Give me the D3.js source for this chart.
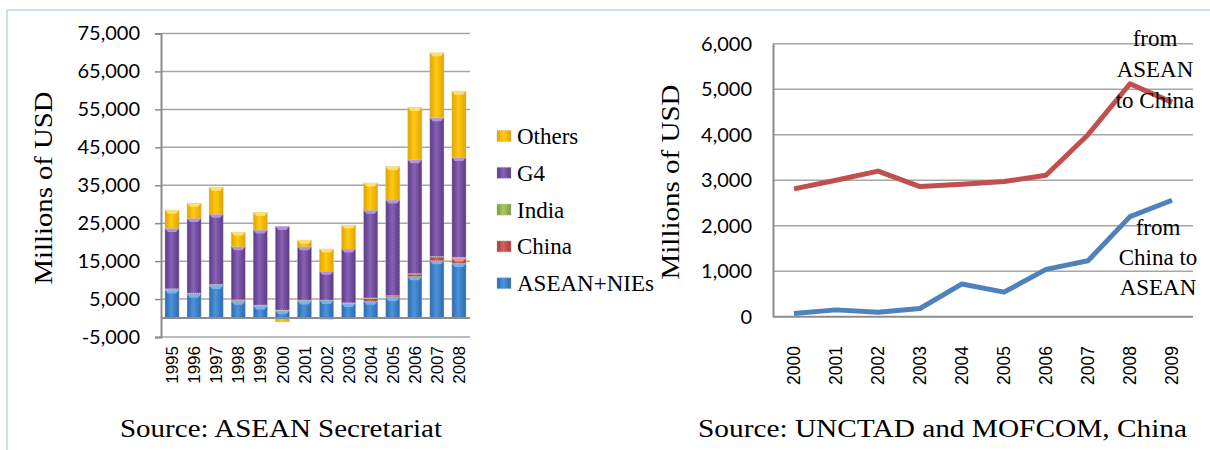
<!DOCTYPE html>
<html>
<head>
<meta charset="utf-8">
<script src="https://cdn.jsdelivr.net/npm/d3@7"></script>
<style>
  html, body { margin: 0; padding: 0; background: #fff; }
  svg { display: block; }
</style>
</head>
<body>
<svg id="chart" width="1210" height="450"></svg>
<script>
// ---- Left panel: inflows by source, stacked (millions of USD) ----
const barYears = ["1995","1996","1997","1998","1999","2000","2001","2002","2003","2004","2005","2006","2007","2008"];
const aseanNies = [7400, 6300, 8600, 4400, 3200, 1900, 4500, 4600, 3800, 4400, 5400, 10900, 15100, 14400];
const china     = [ 200,  150,  150,  300,  100,  100,  100, -300,  100,  800,  400,   700,  1000,  1400];
const india     = [ 100,  100,  100,  100,  100,  100,  100,  100,  100,  100,  100,   100,   100,   200];
const g4        = [15900,19700,18500,14000,19800,22000,14100, 7600,14200,23100,25200, 30000, 36600, 26300];
const others    = [4800, 4000, 7100, 3800, 4600, -1000, 1700, 5900, 6300, 7200, 8800, 13800, 17100, 17500];
const barTicks  = [75000, 65000, 55000, 45000, 35000, 25000, 15000, 5000, -5000];

// ---- Right panel: flows between ASEAN and China (millions of USD) ----
const lineYears   = ["2000","2001","2002","2003","2004","2005","2006","2007","2008","2009"];
const aseanToChina = [2810, 3000, 3200, 2860, 2910, 2970, 3110, 4000, 5120, 4710];
const chinaToAsean = [  70,  150,  100,  180,  720,  540, 1040, 1230, 2200, 2560];
const lineTicks   = [0, 1000, 2000, 3000, 4000, 5000, 6000];

const seriesKeys  = ["ASEAN+NIEs", "China", "India", "G4", "Others"];
const seriesVals  = [aseanNies, china, india, g4, others];
const legendOrder = ["Others", "G4", "India", "China", "ASEAN+NIEs"];
const palette = {
  "ASEAN+NIEs": {edge: "#2c68ac", mid: "#4c93dc", cap: "#7fb6ee"},
  "China":      {edge: "#a83b38", mid: "#d6605c", cap: "#ee9a97"},
  "India":      {edge: "#7a9a3c", mid: "#a8c968", cap: "#cfe5a4"},
  "G4":         {edge: "#5a3883", mid: "#8862b6", cap: "#b99ae0"},
  "Others":     {edge: "#e0a400", mid: "#ffc910", cap: "#ffe37a"}
};

const svg = d3.select("#chart");
const serif = "'Liberation Serif', 'Times New Roman', serif";
const sans = "Lato, 'Open Sans', sans-serif";
const gridColor = "#a6a6a6";
const axisColor = "#8c8c8c";

// page frame
svg.append("line").attr("x1", 7).attr("x2", 1210).attr("y1", 10).attr("y2", 10)
  .attr("stroke", "#bcd0ea").attr("stroke-width", 1.5);
svg.append("line").attr("x1", 7).attr("x2", 7).attr("y1", 10).attr("y2", 450)
  .attr("stroke", "#bcd0ea").attr("stroke-width", 1.5);

// gradients for the bevelled bars
const defs = svg.append("defs");
seriesKeys.forEach((k, i) => {
  const g = defs.append("linearGradient").attr("id", "grad" + i)
    .attr("x1", "0%").attr("x2", "100%").attr("y1", "0%").attr("y2", "0%");
  g.append("stop").attr("offset", "0%").attr("stop-color", palette[k].edge);
  g.append("stop").attr("offset", "45%").attr("stop-color", palette[k].mid);
  g.append("stop").attr("offset", "100%").attr("stop-color", palette[k].edge);
});

// ================= LEFT CHART =================
const xB = d3.scaleBand().domain(barYears).range([161, 470]).paddingInner(0.36).paddingOuter(0.18);
const yB = d3.scaleLinear().domain([-5000, 75000]).range([337, 33.5]);

const left = svg.append("g");

// gridlines
left.append("g").selectAll("line").data(barTicks).join("line")
  .attr("x1", 161).attr("x2", 470)
  .attr("y1", d => yB(d)).attr("y2", d => yB(d))
  .attr("stroke", gridColor).attr("stroke-width", 1.5);

// y axis
const yAxisB = left.append("g").attr("transform", "translate(161,0)")
  .call(d3.axisLeft(yB).tickValues(barTicks).tickSize(6).tickPadding(15)
    .tickFormat(d => d3.format(",")(d).replace("−", "-")));
yAxisB.select(".domain").attr("stroke", axisColor).attr("stroke-width", 2);
yAxisB.selectAll(".tick line").attr("stroke", axisColor).attr("stroke-width", 1.5);
yAxisB.selectAll(".tick text").attr("font-family", sans).attr("font-size", 20).attr("fill", "#000");

// stacked data
const table = barYears.map((y, i) => {
  const row = {year: y};
  seriesKeys.forEach((k, j) => row[k] = seriesVals[j][i]);
  return row;
});
const stacked = d3.stack().keys(seriesKeys).offset(d3.stackOffsetDiverging)(table);

const bw = xB.bandwidth();
stacked.forEach((layer, li) => {
  const key = seriesKeys[li];
  const g = left.append("g");
  g.selectAll("rect").data(layer).join("rect")
    .attr("x", d => xB(d.data.year))
    .attr("width", bw)
    .attr("y", d => yB(Math.max(d[0], d[1])))
    .attr("height", d => Math.abs(yB(d[0]) - yB(d[1])))
    .attr("fill", `url(#grad${li})`)
    .attr("stroke", "#c8c8c8").attr("stroke-width", 0.8).attr("stroke-dasharray", "1,1");
  // lighter bevel on top of each segment
  g.selectAll("path").data(layer.filter(d => Math.abs(yB(d[0]) - yB(d[1])) > 5)).join("path")
    .attr("d", d => {
      const x0 = xB(d.data.year), x1 = x0 + bw, yt = yB(Math.max(d[0], d[1]));
      return `M${x0},${yt}L${x1},${yt}L${x1 - 3},${yt + 3.5}L${x0 + 3},${yt + 3.5}Z`;
    })
    .attr("fill", palette[key].cap).attr("opacity", 0.9);
});

// category axis at zero
left.append("line").attr("x1", 161).attr("x2", 470).attr("y1", yB(0)).attr("y2", yB(0))
  .attr("stroke", axisColor).attr("stroke-width", 2);

// year labels
left.append("g").selectAll("text").data(barYears).join("text")
  .attr("transform", d => `translate(${xB(d) + bw / 2},346) rotate(-90)`)
  .attr("text-anchor", "end").attr("dy", "0.36em")
  .attr("font-family", "'Liberation Sans', Arial, sans-serif").attr("font-size", 17)
  .text(d => d);

// y-axis title
left.append("text")
  .attr("transform", "translate(52,188) rotate(-90)")
  .attr("text-anchor", "middle")
  .attr("font-family", serif).attr("font-size", 26)
  .attr("textLength", 193).attr("lengthAdjust", "spacingAndGlyphs")
  .text("Millions of USD");

// legend
const lg = left.append("g");
legendOrder.forEach((k, i) => {
  const cy = 136 + i * 36.8;
  const idx = seriesKeys.indexOf(k);
  lg.append("rect").attr("x", 497).attr("y", cy - 5.5).attr("width", 14).attr("height", 11)
    .attr("fill", `url(#grad${idx})`)
    .attr("stroke", "#b0b0b0").attr("stroke-width", 0.8).attr("stroke-dasharray", "1,1");
  lg.append("text").attr("x", 517).attr("y", cy + 8)
    .attr("font-family", serif).attr("font-size", 23)
    .text(k);
});

// source
left.append("text").attr("x", 120).attr("y", 437)
  .attr("font-family", serif).attr("font-size", 25)
  .attr("textLength", 322).attr("lengthAdjust", "spacingAndGlyphs")
  .text("Source: ASEAN Secretariat");

// ================= RIGHT CHART =================
const xL = d3.scalePoint().domain(lineYears).range([773, 1193]).padding(0.5);
const yL = d3.scaleLinear().domain([0, 6000]).range([316.7, 43.7]);

const right = svg.append("g");

right.append("g").selectAll("line").data(lineTicks.filter(d => d > 0)).join("line")
  .attr("x1", 773).attr("x2", 1193)
  .attr("y1", d => yL(d)).attr("y2", d => yL(d))
  .attr("stroke", gridColor).attr("stroke-width", 1.5);

const yAxisL = right.append("g").attr("transform", "translate(773,0)")
  .call(d3.axisLeft(yL).tickValues(lineTicks).tickSize(0).tickPadding(21).tickFormat(d3.format(",")));
yAxisL.select(".domain").attr("stroke", axisColor).attr("stroke-width", 2);
yAxisL.selectAll(".tick text").attr("font-family", sans).attr("font-size", 20).attr("fill", "#000");

right.append("line").attr("x1", 773).attr("x2", 1193).attr("y1", yL(0)).attr("y2", yL(0))
  .attr("stroke", axisColor).attr("stroke-width", 2);

const line = d3.line().x((d, i) => xL(lineYears[i])).y(d => yL(d));
right.append("path").datum(aseanToChina).attr("d", line)
  .attr("fill", "none").attr("stroke", "#c0504d").attr("stroke-width", 5).attr("stroke-linejoin", "round");
right.append("path").datum(chinaToAsean).attr("d", line)
  .attr("fill", "none").attr("stroke", "#4f81bd").attr("stroke-width", 5).attr("stroke-linejoin", "round");

right.append("g").selectAll("text").data(lineYears).join("text")
  .attr("transform", d => `translate(${xL(d)},346) rotate(-90)`)
  .attr("text-anchor", "end").attr("dy", "0.36em")
  .attr("font-family", "'Liberation Sans', Arial, sans-serif").attr("font-size", 17.5)
  .text(d => d);

right.append("text")
  .attr("transform", "translate(679,182) rotate(-90)")
  .attr("text-anchor", "middle")
  .attr("font-family", serif).attr("font-size", 26)
  .attr("textLength", 195).attr("lengthAdjust", "spacingAndGlyphs")
  .text("Millions of USD");

// series labels
const redLabel = ["from", "ASEAN", "to China"];
redLabel.forEach((t, i) => {
  right.append("text").attr("x", 1155).attr("y", 46 + i * 30.8)
    .attr("text-anchor", "middle").attr("font-family", serif).attr("font-size", 23)
    .text(t);
});
const blueLabel = ["from", "China to", "ASEAN"];
blueLabel.forEach((t, i) => {
  right.append("text").attr("x", 1158).attr("y", 235 + i * 30)
    .attr("text-anchor", "middle").attr("font-family", serif).attr("font-size", 23)
    .text(t);
});

right.append("text").attr("x", 698).attr("y", 437)
  .attr("font-family", serif).attr("font-size", 25)
  .attr("textLength", 489).attr("lengthAdjust", "spacingAndGlyphs")
  .text("Source: UNCTAD and MOFCOM, China");
</script>
</body>
</html>
